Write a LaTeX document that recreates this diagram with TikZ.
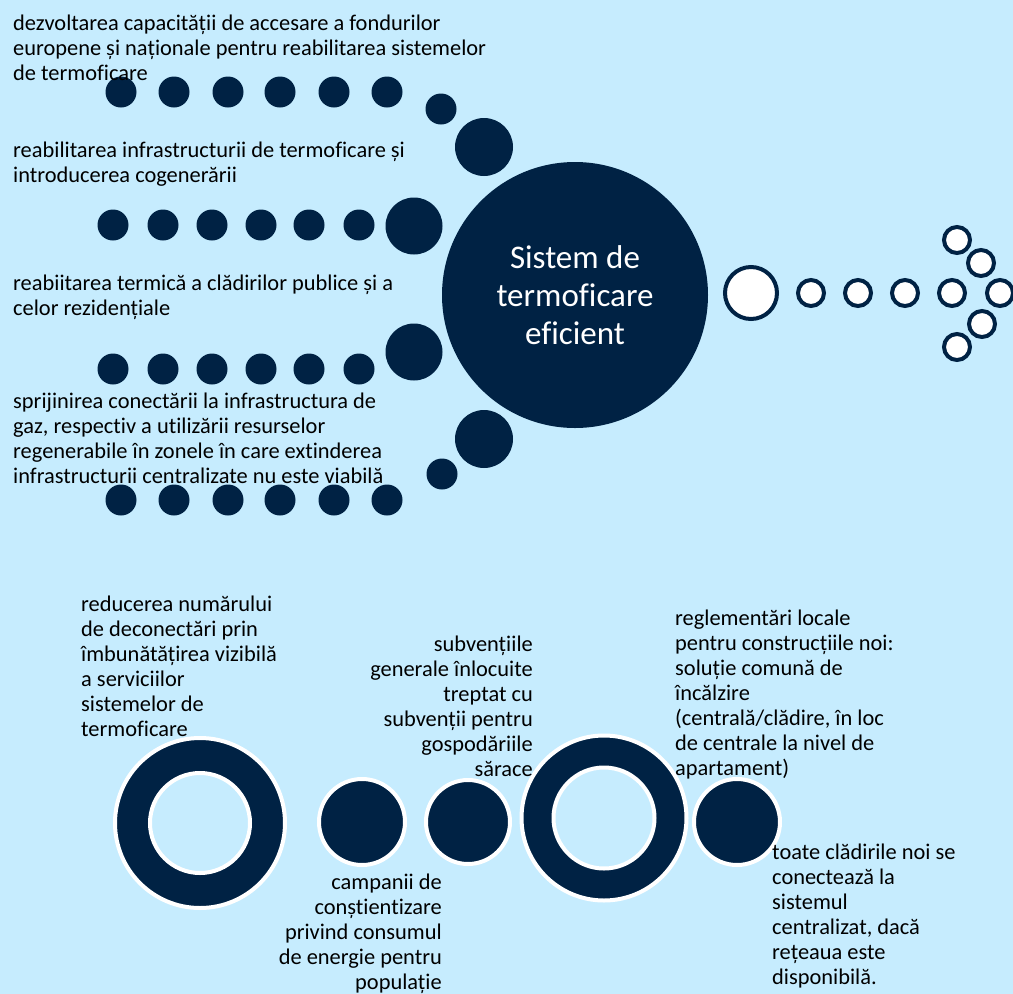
\documentclass[tikz,border=0pt]{standalone}
\usepackage{fontspec}
\setmainfont{Carlito}[Ligatures=CommonOff]
\usepackage{tikz}
\usetikzlibrary{positioning,calc}
\definecolor{skyback}{RGB}{198,236,254}
\definecolor{navy}{RGB}{0,34,68}

\begin{document}
\begin{tikzpicture}[x=1pt, y=-1pt,
  dot/.style={circle, fill=navy, inner sep=0, minimum size=#1},
  hollow/.style={circle, fill=white, draw=navy, line width=4pt, inner sep=0, minimum size=#1},
  bigdot/.style={circle, fill=navy, draw=white, line width=4pt, inner sep=0, minimum size=#1},
  holeout/.style={circle, fill=skyback, draw=white, line width=4pt, inner sep=0, minimum size=#1},
  txt/.style={font=\fontsize{22.4}{25}\selectfont, inner sep=0, text=black}]
  % Background and page size
  \fill[skyback] (0,0) rectangle (1013,994);
  \useasboundingbox (0,0) rectangle (1013,994);

  % Central circle
  \node[dot=266, text=white, align=center, font=\fontsize{33}{38}\selectfont] (sys) at (575,295)
    {Sistem de\\termoficare\\eficient};

  % Rows of dots towards the centre
  \foreach \x [count=\i] in {121,174,228,280,334,387} {
    \node[dot=31] (a\i) at (\x,92) {};
    \node[dot=31] (d\i) at (\x,500) {};
  }
  \foreach \x [count=\i] in {113,163,212,261,309,359} {
    \node[dot=31] (b\i) at (\x,225) {};
    \node[dot=31] (c\i) at (\x,369) {};
  }
  \node[dot=31] (a7) at (441,109) {};
  \node[dot=58] (a8) at (484,147) {};
  \node[dot=57] (b7) at (414,226) {};
  \node[dot=57] (c7) at (414,352) {};
  \node[dot=58] (d8) at (484,439) {};
  \node[dot=31] (d7) at (442,474) {};

  % Arrow of hollow circles
  \node[hollow=52] (r0) at (751,293) {};
  \foreach \x [count=\i] in {811,858,905,952,1000}
    \node[hollow=26] (r\i) at (\x,293) {};
  \node[hollow=26] (h1) at (957,240) {};
  \node[hollow=26] (h2) at (981,263) {};
  \node[hollow=26] (h3) at (982,324) {};
  \node[hollow=26] (h4) at (957,347) {};

  % Labels on the left (anchored at the last baseline)
  \node[txt, anchor=base west, align=left] (t1) at (13,80)
    {dezvoltarea capacității de accesare a fondurilor\\europene și naționale pentru reabilitarea sistemelor\\de termoficare};
  \node[txt, anchor=base west, align=left] (t2) at (13,182)
    {reabilitarea infrastructurii de termoficare și\\introducerea cogenerării};
  \node[txt, anchor=base west, align=left] (t3) at (13,315)
    {reabiitarea termică a clădirilor publice și a\\celor rezidențiale};
  \node[txt, anchor=base west, align=left] (t4) at (13,483)
    {sprijinirea conectării la infrastructura de\\gaz, respectiv a utilizării resurselor\\regenerabile în zonele în care extinderea\\infrastructurii centralizate nu este viabilă};

  % Bottom row of rings and dots
  \node[bigdot=170] (m1) at (200,823) {};
  \node[holeout=100] (m1i) at (200,823) {};
  \node[bigdot=86] (m2) at (362,822) {};
  \node[bigdot=84] (m3) at (468,822) {};
  \node[bigdot=165] (m4) at (604,818) {};
  \node[holeout=101] (m4i) at (604,818) {};
  \node[bigdot=86] (m5) at (737,822) {};

  % Bottom labels
  \node[txt, anchor=base west, align=left] (l1) at (81,736)
    {reducerea numărului\\de deconectări prin\\îmbunătățirea vizibilă\\a serviciilor\\sistemelor de\\termoficare};
  \node[txt, anchor=base east, align=right] (l2) at (442,989)
    {campanii de\\conștientizare\\privind consumul\\de energie pentru\\populație};
  \node[txt, anchor=base east, align=right] (l3) at (533,776)
    {subvențiile\\generale înlocuite\\treptat cu\\subvenții pentru\\gospodăriile\\sărace};
  \node[txt, anchor=base west, align=left] (l4) at (675,775)
    {reglementări locale\\pentru construcțiile noi:\\soluție comună de\\încălzire\\(centrală/clădire, în loc\\de centrale la nivel de\\apartament)};
  \node[txt, anchor=base west, align=left] (l5) at (772,984)
    {toate clădirile noi se\\conectează la\\sistemul\\centralizat, dacă\\rețeaua este\\disponibilă.};
\end{tikzpicture}
\end{document}
